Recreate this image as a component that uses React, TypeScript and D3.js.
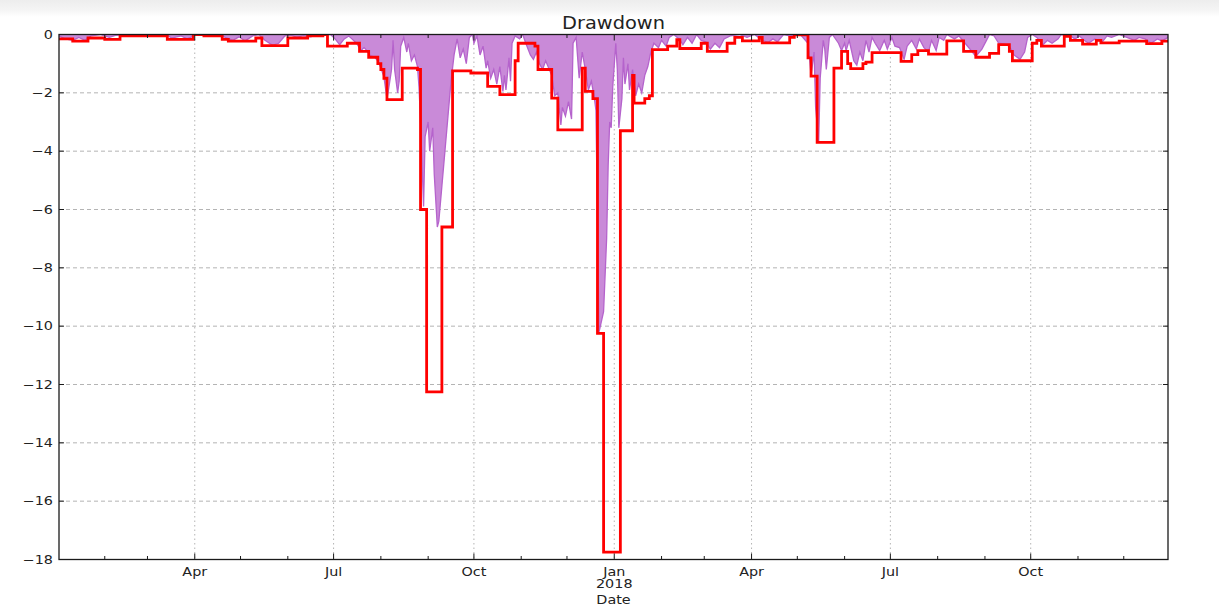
import React, { useEffect, useRef } from 'react';
import * as d3 from 'd3';

const startDate = '2017-01-02';
const endDate = '2018-12-30';

const yTicks = [0, -2, -4, -6, -8, -10, -12, -14, -16, -18];
const majorTickDates = ['2017-04-01', '2017-07-01', '2017-10-01', '2018-01-01', '2018-04-01', '2018-07-01', '2018-10-01'];
const majorTickLabels = ['Apr', 'Jul', 'Oct', 'Jan', 'Apr', 'Jul', 'Oct'];
const yearLabel = '2018';

// daily drawdown (%), filled purple
const dailyDrawdown: [string, number][] = [
  ['2017-01-02', -0.05], ['2017-01-06', -0.15], ['2017-01-11', -0.2], ['2017-01-15', -0.1],
  ['2017-01-19', -0.2], ['2017-01-23', -0.05], ['2017-01-29', 0], ['2017-02-04', -0.1],
  ['2017-02-08', -0.03], ['2017-02-15', 0], ['2017-03-13', 0], ['2017-03-17', -0.12],
  ['2017-03-23', -0.05], ['2017-03-27', -0.15], ['2017-03-30', -0.08], ['2017-04-02', 0],
  ['2017-04-17', 0], ['2017-04-21', -0.1], ['2017-04-26', -0.2], ['2017-04-30', -0.08],
  ['2017-05-04', -0.22], ['2017-05-09', -0.05], ['2017-05-13', 0], ['2017-05-17', -0.2],
  ['2017-05-22', -0.37], ['2017-05-26', -0.3], ['2017-05-30', -0.05], ['2017-06-03', -0.02],
  ['2017-06-07', -0.1], ['2017-06-11', -0.04], ['2017-06-16', -0.08], ['2017-06-21', 0],
  ['2017-06-29', 0], ['2017-07-02', -0.15], ['2017-07-05', -0.35], ['2017-07-08', -0.15],
  ['2017-07-11', -0.05], ['2017-07-13', -0.15], ['2017-07-16', -0.3], ['2017-07-19', -0.55],
  ['2017-07-21', -0.45], ['2017-07-23', -0.56], ['2017-07-25', -0.72], ['2017-07-28', -0.78],
  ['2017-07-30', -0.9], ['2017-08-01', -1.15], ['2017-08-03', -1.45], ['2017-08-05', -2.2],
  ['2017-08-06', -1.9], ['2017-08-08', -1.2], ['2017-08-09', -0.2], ['2017-08-10', -1.2],
  ['2017-08-12', -2.0], ['2017-08-13', -1.6], ['2017-08-14', -0.4], ['2017-08-16', -0.1],
  ['2017-08-18', -0.6], ['2017-08-19', -0.3], ['2017-08-21', -0.9], ['2017-08-23', -0.7],
  ['2017-08-25', -1.1], ['2017-08-26', -1.8], ['2017-08-27', -3.0], ['2017-08-29', -5.9],
  ['2017-08-30', -3.5], ['2017-09-01', -3.0], ['2017-09-02', -4.0], ['2017-09-04', -3.2],
  ['2017-09-05', -4.8], ['2017-09-07', -6.6], ['2017-09-08', -6.4], ['2017-09-10', -5.2],
  ['2017-09-12', -4.0], ['2017-09-14', -2.8], ['2017-09-16', -1.6], ['2017-09-18', -0.7],
  ['2017-09-20', -0.15], ['2017-09-22', -0.8], ['2017-09-24', -0.5], ['2017-09-26', -1.0],
  ['2017-09-28', -0.1], ['2017-09-30', 0], ['2017-10-01', -0.3], ['2017-10-03', -0.05],
  ['2017-10-05', -0.7], ['2017-10-07', -0.4], ['2017-10-09', -1.15], ['2017-10-10', -0.9],
  ['2017-10-12', -1.5], ['2017-10-14', -1.2], ['2017-10-16', -1.7], ['2017-10-18', -1.1],
  ['2017-10-20', -1.95], ['2017-10-21', -1.4], ['2017-10-22', -1.9], ['2017-10-24', -0.8],
  ['2017-10-25', -1.6], ['2017-10-26', -0.3], ['2017-10-28', -0.05], ['2017-10-31', -0.15],
  ['2017-11-02', 0], ['2017-11-04', -0.3], ['2017-11-07', -0.7], ['2017-11-09', -0.85],
  ['2017-11-11', -0.6], ['2017-11-13', -1.0], ['2017-11-15', -1.2], ['2017-11-17', -0.9],
  ['2017-11-19', -1.15], ['2017-11-21', -1.4], ['2017-11-23', -2.1], ['2017-11-25', -2.0],
  ['2017-11-27', -3.1], ['2017-11-28', -2.5], ['2017-11-30', -2.8], ['2017-12-02', -2.3],
  ['2017-12-04', -2.9], ['2017-12-05', -0.3], ['2017-12-07', -0.1], ['2017-12-09', -1.5],
  ['2017-12-11', -0.6], ['2017-12-13', -1.2], ['2017-12-15', -1.9], ['2017-12-17', -1.6],
  ['2017-12-19', -2.2], ['2017-12-20', -2.6], ['2017-12-21', -6.5], ['2017-12-22', -10.2],
  ['2017-12-25', -9.5], ['2017-12-27', -7.0], ['2017-12-28', -4.5], ['2017-12-29', -3.0],
  ['2017-12-30', -3.2], ['2017-12-31', -1.8], ['2018-01-02', -0.3], ['2018-01-03', -1.2],
  ['2018-01-04', -3.2], ['2018-01-06', -2.2], ['2018-01-07', -0.8], ['2018-01-08', -1.7],
  ['2018-01-10', -1.0], ['2018-01-11', -1.9], ['2018-01-13', -1.2], ['2018-01-15', -2.1],
  ['2018-01-17', -1.7], ['2018-01-19', -2.0], ['2018-01-21', -1.4], ['2018-01-23', -1.1],
  ['2018-01-25', -0.6], ['2018-01-27', -0.3], ['2018-01-30', -0.45], ['2018-02-01', -0.2],
  ['2018-02-04', -0.4], ['2018-02-06', -0.1], ['2018-02-09', 0], ['2018-02-13', -0.18],
  ['2018-02-15', -0.35], ['2018-02-18', -0.1], ['2018-02-21', -0.3], ['2018-02-24', 0],
  ['2018-02-27', -0.2], ['2018-03-02', -0.25], ['2018-03-05', -0.5], ['2018-03-08', -0.3],
  ['2018-03-11', -0.45], ['2018-03-14', -0.15], ['2018-03-18', -0.05], ['2018-03-24', 0],
  ['2018-03-29', -0.1], ['2018-04-03', 0], ['2018-04-08', -0.2], ['2018-04-12', -0.27],
  ['2018-04-15', -0.15], ['2018-04-18', -0.25], ['2018-04-22', 0], ['2018-04-26', -0.05],
  ['2018-05-03', 0], ['2018-05-08', -0.3], ['2018-05-09', -0.8], ['2018-05-10', -1.4],
  ['2018-05-12', -0.6], ['2018-05-13', -2.5], ['2018-05-15', -3.7], ['2018-05-16', -1.5],
  ['2018-05-18', -0.2], ['2018-05-19', -0.5], ['2018-05-20', -1.2], ['2018-05-22', -0.1],
  ['2018-05-24', 0], ['2018-05-28', -0.3], ['2018-05-30', -0.55], ['2018-06-01', -0.3],
  ['2018-06-02', -0.55], ['2018-06-04', -0.2], ['2018-06-07', -0.9], ['2018-06-09', -1.05],
  ['2018-06-11', -0.6], ['2018-06-13', -0.9], ['2018-06-15', -0.2], ['2018-06-17', -0.6],
  ['2018-06-19', -0.1], ['2018-06-21', -0.3], ['2018-06-24', -0.55], ['2018-06-27', -0.2],
  ['2018-06-29', -0.5], ['2018-07-02', -0.1], ['2018-07-04', -0.4], ['2018-07-07', -0.45],
  ['2018-07-10', -0.85], ['2018-07-12', -0.4], ['2018-07-15', -0.2], ['2018-07-18', -0.5],
  ['2018-07-20', -0.15], ['2018-07-23', -0.45], ['2018-07-26', -0.6], ['2018-07-28', -0.2],
  ['2018-07-31', -0.55], ['2018-08-02', -0.1], ['2018-08-05', -0.2], ['2018-08-07', 0],
  ['2018-08-12', -0.15], ['2018-08-15', -0.05], ['2018-08-19', -0.3], ['2018-08-23', -0.55],
  ['2018-08-26', -0.75], ['2018-08-30', -0.5], ['2018-09-02', -0.2], ['2018-09-04', 0],
  ['2018-09-07', -0.05], ['2018-09-10', -0.3], ['2018-09-14', -0.33], ['2018-09-17', -0.4],
  ['2018-09-20', -0.7], ['2018-09-24', -0.85], ['2018-09-27', -0.6], ['2018-09-29', -0.1],
  ['2018-10-02', 0], ['2018-10-05', -0.1], ['2018-10-09', -0.35], ['2018-10-12', -0.2],
  ['2018-10-15', -0.3], ['2018-10-19', -0.15], ['2018-10-21', 0], ['2018-10-27', -0.05],
  ['2018-10-30', -0.15], ['2018-11-02', -0.05], ['2018-11-05', -0.2], ['2018-11-08', -0.3],
  ['2018-11-12', -0.15], ['2018-11-17', -0.25], ['2018-11-20', -0.05], ['2018-11-23', -0.1],
  ['2018-11-28', 0], ['2018-12-03', -0.1], ['2018-12-08', -0.2], ['2018-12-11', -0.1],
  ['2018-12-15', -0.15], ['2018-12-19', -0.3], ['2018-12-23', -0.15], ['2018-12-26', -0.22],
  ['2018-12-30', -0.1],
];

// stepped drawdown envelope (%), red
const maxDrawdownSteps: [string, number][] = [
  ['2017-01-02', -0.15], ['2017-01-11', -0.23], ['2017-01-21', -0.12], ['2017-02-01', -0.17],
  ['2017-02-11', -0.05], ['2017-03-14', -0.17], ['2017-03-31', 0], ['2017-04-07', -0.05],
  ['2017-04-19', -0.17], ['2017-04-23', -0.23], ['2017-05-11', -0.12], ['2017-05-15', -0.38],
  ['2017-06-01', -0.12], ['2017-06-14', -0.05], ['2017-06-24', 0], ['2017-06-27', -0.4],
  ['2017-07-10', -0.3], ['2017-07-18', -0.58], ['2017-07-24', -0.78], ['2017-07-30', -1.0],
  ['2017-08-01', -1.2], ['2017-08-03', -1.5], ['2017-08-05', -2.23], ['2017-08-15', -1.15],
  ['2017-08-25', -1.2], ['2017-08-27', -6.0], ['2017-08-31', -12.25], ['2017-09-10', -6.6],
  ['2017-09-17', -1.25], ['2017-09-29', -1.32], ['2017-10-10', -1.78], ['2017-10-18', -2.06],
  ['2017-10-28', -0.9], ['2017-10-30', -0.3], ['2017-11-10', -0.4], ['2017-11-12', -1.2],
  ['2017-11-21', -2.18], ['2017-11-25', -3.27], ['2017-12-11', -1.15], ['2017-12-13', -1.95],
  ['2017-12-18', -2.2], ['2017-12-21', -10.25], ['2017-12-25', -17.75], ['2018-01-05', -3.3],
  ['2018-01-13', -1.4], ['2018-01-14', -2.35], ['2018-01-21', -2.2], ['2018-01-24', -2.1],
  ['2018-01-26', -0.52], ['2018-02-05', -0.4], ['2018-02-11', -0.18], ['2018-02-13', -0.48],
  ['2018-02-27', -0.3], ['2018-03-03', -0.58], ['2018-03-16', -0.3], ['2018-03-21', -0.1],
  ['2018-03-26', -0.22], ['2018-04-06', -0.1], ['2018-04-08', -0.29], ['2018-04-26', -0.1],
  ['2018-04-29', -0.01], ['2018-05-08', -0.8], ['2018-05-10', -1.43], ['2018-05-14', -3.7],
  ['2018-05-25', -1.15], ['2018-05-30', -0.58], ['2018-06-03', -1.0], ['2018-06-05', -1.17],
  ['2018-06-13', -1.0], ['2018-06-15', -0.95], ['2018-06-19', -0.62], ['2018-07-08', -0.92],
  ['2018-07-15', -0.69], ['2018-07-19', -0.55], ['2018-07-26', -0.67], ['2018-08-07', -0.22],
  ['2018-08-18', -0.58], ['2018-08-26', -0.78], ['2018-09-04', -0.65], ['2018-09-10', -0.35],
  ['2018-09-17', -0.58], ['2018-09-19', -0.9], ['2018-10-02', -0.3], ['2018-10-05', -0.2],
  ['2018-10-08', -0.4], ['2018-10-23', -0.06], ['2018-10-27', -0.2], ['2018-11-04', -0.33],
  ['2018-11-13', -0.2], ['2018-11-16', -0.29], ['2018-11-28', -0.23], ['2018-12-16', -0.31],
  ['2018-12-26', -0.23], ['2018-12-30', -0.23],
];

const W = 1219, H = 607;
const left = 59, right = 1168, top = 34.5, bottom = 559.5;

export default function App() {
  const ref = useRef<SVGSVGElement>(null);

  useEffect(() => {
    const svg = d3.select(ref.current);
    svg.selectAll('*').remove();
    const parse = d3.timeParse('%Y-%m-%d');

    const x = d3.scaleTime().domain([parse(startDate)!, parse(endDate)!]).range([left, right]);
    const y = d3.scaleLinear().domain([-18, 0]).range([bottom, top]);

    // grey strip at the very top of the page
    const defs = svg.append('defs');
    const grad = defs.append('linearGradient').attr('id', 'topband').attr('x1', 0).attr('y1', 0).attr('x2', 0).attr('y2', 1);
    grad.append('stop').attr('offset', '0').attr('stop-color', '#ededed');
    grad.append('stop').attr('offset', '0.55').attr('stop-color', '#f4f4f4');
    grad.append('stop').attr('offset', '1').attr('stop-color', '#ffffff');
    svg.append('rect').attr('x', 0).attr('y', 0).attr('width', W).attr('height', 17).attr('fill', 'url(#topband)');

    defs.append('clipPath').attr('id', 'plotclip')
      .append('rect').attr('x', left).attr('y', top).attr('width', right - left).attr('height', bottom - top);

    // grid
    const grid = svg.append('g');
    grid.selectAll('.hgrid').data(yTicks.filter(v => v !== 0 && v !== -18)).enter().append('line')
      .attr('x1', left).attr('x2', right)
      .attr('y1', d => y(d)).attr('y2', d => y(d))
      .attr('stroke', '#b4b4b4').attr('stroke-width', 1).attr('stroke-dasharray', '4,3');
    grid.selectAll('.vgrid').data(majorTickDates).enter().append('line')
      .attr('x1', d => x(parse(d)!)).attr('x2', d => x(parse(d)!))
      .attr('y1', top).attr('y2', bottom)
      .attr('stroke', '#b4b4b4').attr('stroke-width', 1).attr('stroke-dasharray', '1.5,3');

    const plot = svg.append('g').attr('clip-path', 'url(#plotclip)');

    const daily = dailyDrawdown.map(([d, v]) => ({ date: parse(d)!, value: v }));
    const steps = maxDrawdownSteps.map(([d, v]) => ({ date: parse(d)!, value: v }));

    const area = d3.area<{ date: Date; value: number }>()
      .x(d => x(d.date)).y0(y(0)).y1(d => y(d.value));
    plot.append('path').datum(daily).attr('d', area)
      .attr('fill', '#c98ad8');

    const dailyLine = d3.line<{ date: Date; value: number }>()
      .x(d => x(d.date)).y(d => y(d.value));
    plot.append('path').datum(daily).attr('d', dailyLine)
      .attr('fill', 'none').attr('stroke', '#b563cc').attr('stroke-width', 1.3);

    const stepLine = d3.line<{ date: Date; value: number }>()
      .x(d => x(d.date)).y(d => y(d.value)).curve(d3.curveStepAfter);
    plot.append('path').datum(steps).attr('d', stepLine)
      .attr('fill', 'none').attr('stroke', '#ff0000').attr('stroke-width', 2.8)
      .attr('stroke-linejoin', 'miter');

    // frame
    svg.append('rect').attr('x', left).attr('y', top).attr('width', right - left).attr('height', bottom - top)
      .attr('fill', 'none').attr('stroke', '#1a1a1a').attr('stroke-width', 1.3);

    // ticks (inward, matplotlib classic)
    const ticks = svg.append('g').attr('stroke', '#1a1a1a').attr('stroke-width', 1);
    yTicks.forEach(v => {
      ticks.append('line').attr('x1', left).attr('x2', left + 5).attr('y1', y(v)).attr('y2', y(v));
      ticks.append('line').attr('x1', right).attr('x2', right - 5).attr('y1', y(v)).attr('y2', y(v));
    });
    const months = d3.timeMonth.range(parse(startDate)!, parse(endDate)!);
    months.forEach(m => {
      const major = m.getMonth() % 3 === 0;
      const len = major ? 6 : 3.5;
      ticks.append('line').attr('x1', x(m)).attr('x2', x(m)).attr('y1', bottom).attr('y2', bottom - len);
      ticks.append('line').attr('x1', x(m)).attr('x2', x(m)).attr('y1', top).attr('y2', top + len);
    });

    const font = "'DejaVu Sans', sans-serif";
    const sx = 1.25;
    const label = (px: number, py: number, text: string, size: number, anchor: string, stretch = sx) =>
      svg.append('text')
        .attr('transform', `translate(${px},${py}) scale(${stretch},1)`)
        .attr('text-anchor', anchor)
        .attr('font-family', font).attr('font-size', size).attr('fill', '#222')
        .text(text);

    const fmt = d3.format('d');
    yTicks.forEach(v => {
      label(left - 6, y(v) + 4.2, fmt(v), 11.5, 'end');
    });
    majorTickDates.forEach((d, i) => {
      label(x(parse(d)!), 576, majorTickLabels[i], 11.5, 'middle');
    });
    label(x(parse('2018-01-01')!), 588, yearLabel, 11.5, 'middle');
    label((left + right) / 2, 603.5, 'Date', 11.5, 'middle');
    label((left + right) / 2, 29, 'Drawdown', 17, 'middle', 1.14);
  }, []);

  return (
    <div style={{ position: 'absolute', left: 0, top: 0, background: '#fff' }}>
      <svg ref={ref} width={W} height={H} style={{ display: 'block' }} />
    </div>
  );
}
